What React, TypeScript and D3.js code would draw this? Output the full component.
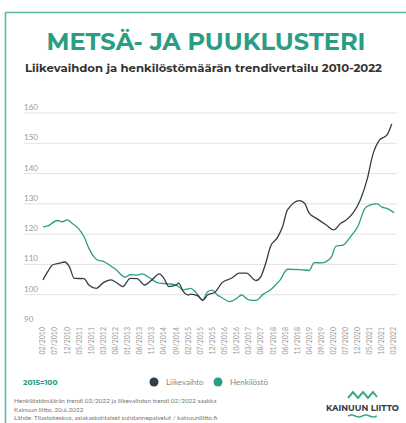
import * as d3 from "d3";

const yTicks = [90, 100, 110, 120, 130, 140, 150, 160];
const xTickLabels = [
  "02/2010", "07/2010", "12/2010", "05/2011", "10/2011", "03/2012", "08/2012", "01/2013",
  "06/2013", "11/2013", "04/2014", "09/2014", "02/2015", "07/2015", "12/2015", "05/2016",
  "10/2016", "03/2017", "08/2017", "01/2018", "06/2018", "11/2018", "04/2019", "09/2019",
  "02/2020", "07/2020", "12/2020", "05/2021", "10/2021", "03/2022",
];

// Liikevaihto (turnover trend), 2015=100
const liikeDates = [
  "2010-02", "2010-04", "2010-06", "2010-09", "2010-11", "2011-01", "2011-03", "2011-07",
  "2011-09", "2011-12", "2012-03", "2012-06", "2012-08", "2012-11", "2013-02", "2013-05",
  "2013-08", "2013-11", "2014-02", "2014-04", "2014-06", "2014-09", "2014-10", "2014-12",
  "2015-02", "2015-03", "2015-06", "2015-08", "2015-10", "2016-01", "2016-04", "2016-08",
  "2016-11", "2017-02", "2017-06", "2017-08", "2017-10", "2017-12", "2018-03", "2018-05",
  "2018-07", "2018-12", "2019-02", "2019-04", "2019-07", "2019-11", "2020-02", "2020-05",
  "2020-07", "2020-10", "2021-01", "2021-04", "2021-06", "2021-09", "2021-12", "2022-02",
];
const liikeValues = [
  104.9, 107.6, 109.8, 110.4, 110.8, 109.1, 105.4, 105.3,
  103.2, 102.1, 104.0, 104.9, 104.2, 102.7, 105.4, 105.3,
  103.2, 104.9, 106.9, 105.4, 102.7, 103.2, 103.8, 101.0,
  99.9, 100.2, 99.6, 98.1, 99.9, 100.8, 104.0, 105.5,
  107.1, 107.1, 104.7, 106.0, 110.4, 116.0, 119.0, 122.5,
  128.0, 131.1, 130.2, 126.9, 125.2, 123.0, 121.4, 123.6,
  124.5, 126.9, 131.3, 138.4, 145.6, 151.1, 152.7, 156.4,
];

// Henkilöstö (personnel trend), 2015=100
const henkDates = [
  "2010-02", "2010-04", "2010-08", "2010-10", "2010-12", "2011-02", "2011-05", "2011-07",
  "2011-09", "2011-11", "2012-01", "2012-03", "2012-06", "2012-08", "2012-12", "2013-02",
  "2013-05", "2013-07", "2013-10", "2014-02", "2014-06", "2014-09", "2014-12", "2015-03",
  "2015-05", "2015-08", "2015-10", "2015-12", "2016-02", "2016-04", "2016-07", "2016-10",
  "2016-12", "2017-03", "2017-06", "2017-09", "2017-12", "2018-02", "2018-04", "2018-07",
  "2018-12", "2019-04", "2019-06", "2019-09", "2020-01", "2020-03", "2020-06", "2020-09",
  "2020-12", "2021-03", "2021-05", "2021-08", "2021-10", "2021-12", "2022-03",
];
const henkValues = [
  122.3, 122.7, 124.5, 124.1, 124.7, 123.6, 121.6, 119.2,
  115.3, 112.6, 111.3, 111.0, 109.5, 108.4, 105.8, 106.6,
  106.5, 106.9, 105.6, 103.8, 103.6, 103.2, 101.6, 102.1,
  101.0, 98.3, 101.0, 101.5, 99.9, 99.0, 97.7, 98.8,
  99.9, 98.3, 98.1, 100.2, 101.6, 103.2, 104.9, 108.4,
  108.3, 108.0, 110.6, 110.5, 112.3, 116.0, 116.4, 119.2,
  122.5, 128.5, 129.6, 130.0, 128.9, 128.5, 127.1,
];

const footnotes = [
  "Henkilöstömäärän trendi 03/2022 ja liikevaihdon trendi 02/2022 saakka",
  "Kainuun liitto, 20.6.2022",
  "Lähde: Tilastokeskus, asiakaskohtaiset suhdannepalvelut / kainuunliitto.fi",
];

const parseMonth = d3.timeParse("%Y-%m");
const parseTick = d3.timeParse("%m/%Y");

const DARK = "#333d47";
const TEAL = "#2a9d84";
const FRAME = "#5fb9a4";

export default function App() {
  const x = d3
    .scaleTime()
    .domain([parseTick("02/2010") as Date, parseTick("03/2022") as Date])
    .range([43, 394]);
  const y = d3.scaleLinear().domain([90, 160]).range([325, 113]);

  const line = d3
    .line<[Date, number]>()
    .x((d) => x(d[0]))
    .y((d) => y(d[1]))
    .curve(d3.curveMonotoneX);

  const liike: [Date, number][] = liikeDates.map((d, i) => [parseMonth(d) as Date, liikeValues[i]]);
  const henk: [Date, number][] = henkDates.map((d, i) => [parseMonth(d) as Date, henkValues[i]]);

  const sans = "Montserrat, 'DejaVu Sans', sans-serif";
  const thin = "Lato, 'Open Sans', sans-serif";

  return (
    <svg
      width={406}
      height={423}
      style={{ position: "absolute", left: 0, top: 0, background: "#fff" }}
    >
      {/* frame */}
      <path d="M5.5,423 V12.5 H406" fill="none" stroke={FRAME} strokeWidth={1.6} />

      <text
        x={206}
        y={50}
        textAnchor="middle"
        fontFamily={sans}
        fontWeight="bold"
        fontSize={24}
        fill={TEAL}
        textLength={319}
        lengthAdjust="spacingAndGlyphs"
      >
        METSÄ- JA PUUKLUSTERI
      </text>
      <text
        x={25}
        y={72}
        fontFamily={sans}
        fontWeight="bold"
        fontSize={11.5}
        fill="#333"
        textLength={357}
        lengthAdjust="spacingAndGlyphs"
      >
        Liikevaihdon ja henkilöstömäärän trendivertailu 2010-2022
      </text>

      {/* y grid + labels */}
      {yTicks.map((t) => (
        <g key={t}>
          {t > 90 && (
            <line x1={24} x2={397} y1={y(t)} y2={y(t)} stroke="#e2e2e2" strokeWidth={1} />
          )}
          <text x={24} y={y(t) - 3} fontFamily={thin} fontSize={8} fill="#9a9a9a">
            {t}
          </text>
        </g>
      ))}

      {/* x labels */}
      {xTickLabels.map((lab) => {
        const px = x(parseTick(lab) as Date);
        return (
          <text
            key={lab}
            transform={`translate(${px},327) rotate(-90)`}
            textAnchor="end"
            dy="0.35em"
            fontFamily={thin}
            fontSize={7}
            fill="#9a9a9a"
          >
            {lab}
          </text>
        );
      })}

      <path d={line(henk) || ""} fill="none" stroke={TEAL} strokeWidth={1.3} />
      <path d={line(liike) || ""} fill="none" stroke={DARK} strokeWidth={1.3} />

      {/* legend */}
      <text x={23} y={385} fontFamily={sans} fontWeight="bold" fontSize={7.5} fill={TEAL}>
        2015=100
      </text>
      <circle cx={154} cy={382} r={4.5} fill={DARK} />
      <text x={166} y={385} fontFamily={thin} fontSize={8} fill="#888">
        Liikevaihto
      </text>
      <circle cx={218} cy={382} r={4.5} fill={TEAL} />
      <text x={230} y={385} fontFamily={thin} fontSize={8} fill="#888">
        Henkilöstö
      </text>

      {/* footnotes */}
      {footnotes.map((f, i) => (
        <text key={i} x={14} y={403 + i * 8.5} fontFamily={thin} fontSize={6.4} fill="#777">
          {f}
        </text>
      ))}

      {/* logo */}
      <polyline
        points="348,398 353,392 358,398 363,392 368,398 373,392 377,397"
        fill="none"
        stroke="#3aa98a"
        strokeWidth={2}
      />
      <text
        x={362.5}
        y={411}
        textAnchor="middle"
        fontFamily={sans}
        fontWeight="bold"
        fontSize={8.5}
        fill="#2f3a44"
        textLength={73}
        lengthAdjust="spacingAndGlyphs"
      >
        KAINUUN LIITTO
      </text>
      <path
        d="M348,416 q3.6,-2 7.2,0 t7.2,0 t7.2,0 t7.2,0"
        fill="none"
        stroke="#3aa98a"
        strokeWidth={1.5}
      />
    </svg>
  );
}
